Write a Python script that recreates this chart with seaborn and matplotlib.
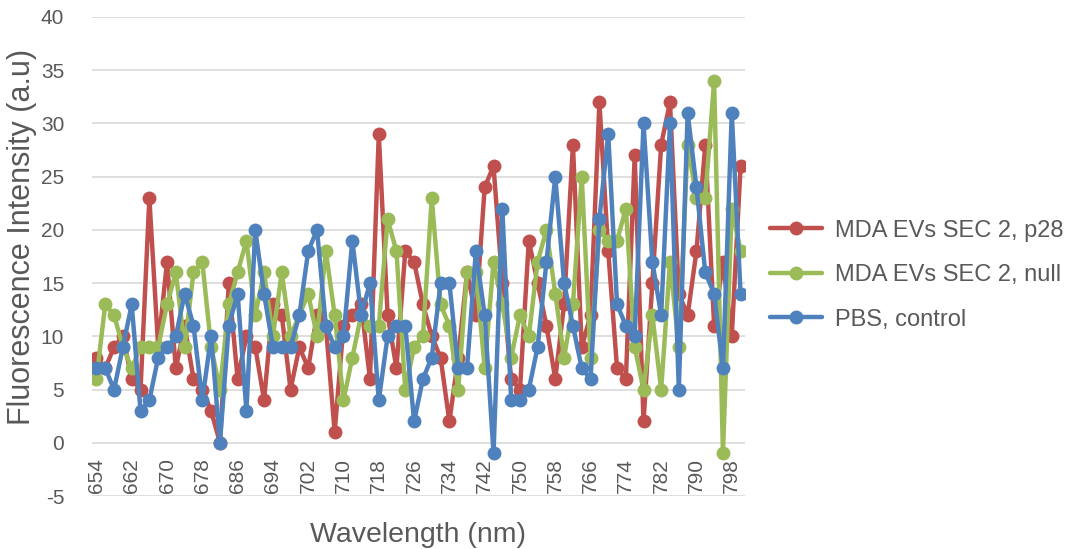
import numpy as np
import pandas as pd
import seaborn as sns
import matplotlib
matplotlib.use("Agg")
import matplotlib.pyplot as plt

# wavelengths 654..800 nm, step 2
wavelength = list(range(654, 801, 2))

p28 = [8, 7, 9, 10, 6, 5, 23, 9, 17, 7, 11, 6, 5, 3, 0, 15, 6, 10, 9, 4,
       13, 12, 5, 9, 7, 12, 11, 1, 11, 12, 13, 6, 29, 12, 7, 18, 17, 13, 10, 8,
       2, 8, 16, 12, 24, 26, 15, 6, 5, 19, 15, 11, 6, 13, 28, 9, 12, 32, 18, 7,
       6, 27, 2, 15, 28, 32, 14, 12, 18, 28, 11, 17, 10, 26]

null = [6, 13, 12, 9, 7, 9, 9, 9, 13, 16, 9, 16, 17, 9, 5, 13, 16, 19, 12, 16,
        10, 16, 10, 12, 14, 10, 18, 12, 4, 8, 12, 11, 11, 21, 18, 5, 9, 10, 23, 13,
        11, 5, 16, 16, 7, 17, 13, 8, 12, 10, 17, 20, 14, 8, 13, 25, 8, 20, 19, 19,
        22, 9, 5, 12, 5, 17, 9, 28, 23, 23, 34, -1, 22, 18]

pbs = [7, 7, 5, 9, 13, 3, 4, 8, 9, 10, 14, 11, 4, 10, 0, 11, 14, 3, 20, 14,
       9, 9, 9, 12, 18, 20, 11, 9, 10, 19, 12, 15, 4, 10, 11, 11, 2, 6, 8, 15,
       15, 7, 7, 18, 12, -1, 22, 4, 4, 5, 9, 17, 25, 15, 11, 7, 6, 21, 29, 13,
       11, 10, 30, 17, 12, 30, 5, 31, 24, 16, 14, 7, 31, 14]

series_names = ["MDA EVs SEC 2, p28", "MDA EVs SEC 2, null", "PBS, control"]
colors = ["#C0504D", "#9BBB59", "#4F81BD"]

sns.set_theme(style="white")
plt.rcParams['font.family'] = ['Liberation Sans', 'DejaVu Sans']
plt.rcParams['axes.unicode_minus'] = False

fig = plt.figure(figsize=(10.76, 5.49), dpi=100)
ax = fig.add_axes([92 / 1076, 1 - 496 / 549, (745 - 92) / 1076, (496 - 17) / 549])

# category axis crosses the value axis at 0, so its labels sit just under 0
ax.spines['bottom'].set_position(('data', 0))
for s in ax.spines.values():
    s.set_visible(False)

pos = np.arange(len(wavelength))
for name, vals, col in zip(series_names, [p28, null, pbs], colors):
    sns.lineplot(x=pos, y=vals, ax=ax, color=col, lw=3.2, marker='o',
                 markersize=10, markeredgewidth=0, label=name)

ax.set_xlim(-0.5, len(wavelength) - 0.5)
ax.set_ylim(-5, 40)
ax.set_yticks(range(-5, 41, 5))
ax.set_xticks(pos[::4])
ax.set_xticklabels([str(w) for w in wavelength[::4]])
ax.tick_params(axis='both', labelsize=15, labelcolor='#595959', length=0)
ax.tick_params(axis='y', pad=20)
ax.tick_params(axis='x', pad=11, labelrotation=90)
ax.grid(axis='y', color='#D9D9D9', lw=1.2)
ax.set_axisbelow(True)

ax.set_xlabel("Wavelength (nm)", fontsize=20.5, color='#595959')
ax.xaxis.set_label_coords(0.5, -0.081)
ax.xaxis.label.set_va('center')
ax.set_ylabel("Fluorescence Intensity (a.u)", fontsize=22, color='#595959')
ax.yaxis.set_label_coords(-0.107, 0.54)
ax.yaxis.label.set_va('center')

ax.legend(loc='center left', bbox_to_anchor=(1.038, 0.461), frameon=False,
          fontsize=17, labelcolor='#595959', handlelength=2.2, handletextpad=0.55,
          labelspacing=0.95, borderpad=0, borderaxespad=0)

fig.savefig("out.png", dpi=100)
